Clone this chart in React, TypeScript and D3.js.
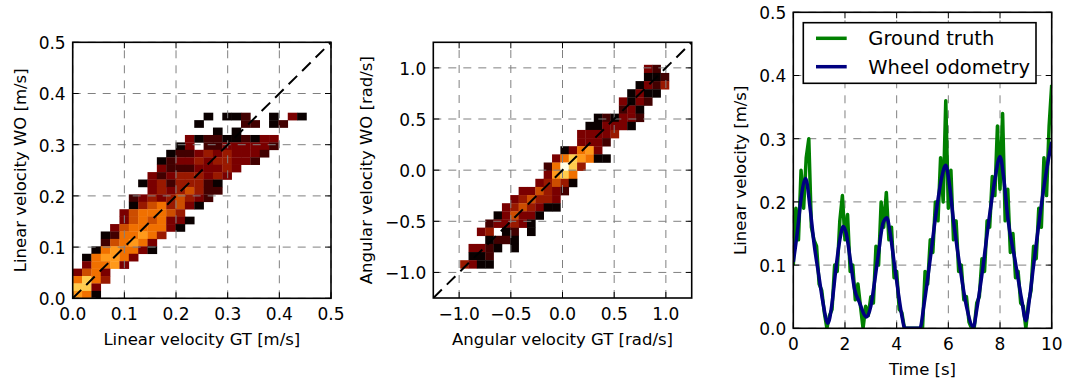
import React from 'react';
import * as d3 from 'd3';

// ---------- DATA ----------
// Panel 1: linear velocity 2D histogram (levels 1..9, '.' = empty). Top row first.
const linearBinStartX = 0;
const linearBinWidthX = 0.0181;
const linearBinStartY = 0;
const linearBinWidthY = 0.0145;
const linearHist = [
  '..............1.112..1.31',
  '.............1....22.12..',
  '...............1.1.......',
  '............3122112133...',
  '...........13.22333332...',
  '..........12234343332....',
  '.........12334344332.....',
  '.........322233343.......',
  '........323444343........',
  '.......134244421.........',
  '........34345422.........',
  '......234345432..........',
  '......14564531...........',
  '.....3566654.............',
  '.....35656331............',
  '....35666631.............',
  '...1266764...............',
  '...256763................',
  '..1676631................',
  '.167763..................',
  '.36673...................',
  '3563.....................',
  '6864.....................',
  '883......................',
  '761......................',
];

// Panel 2: angular velocity 2D histogram. Top row first.
const angularBinStartX = -0.99;
const angularBinWidthX = 0.0808;
const angularBinStartY = -0.96;
const angularBinWidthY = 0.0796;
const angularHist = [
  '......................32.',
  '......................112',
  '.....................1324',
  '....................1311.',
  '...................3132..',
  '...................231...',
  '................121332...',
  '...............113331....',
  '..............33334......',
  '..............3332.......',
  '............13673........',
  '...........3687611.......',
  '..........26984..........',
  '..........3786...........',
  '.........34541...........',
  '.......335432............',
  '......345443.............',
  '.....3454311.............',
  '....135331...............',
  '...233431................',
  '..34.12.1................',
  '...1221..................',
  '.3321.1..................',
  '.112.....................',
  '4311.....................',
];

// colour value (0..1 on afmhot) for each level
const levelValues = [0, 0.02, 0.13, 0.24, 0.3, 0.4, 0.47, 0.55, 0.65, 0.95];

// Panel 3: time series
const odoTime = [0.0, 0.15, 0.3, 0.48, 0.65, 0.8, 1.0, 1.15, 1.34, 1.5, 1.65, 1.8, 1.93, 2.05, 2.2, 2.37, 2.55, 2.83, 3.0, 3.15, 3.3, 3.47, 3.62, 3.75, 3.9, 4.05, 4.2, 4.32, 4.9, 5.05, 5.3, 5.55, 5.75, 5.9, 6.05, 6.2, 6.45, 6.7, 6.97, 7.1, 7.3, 7.6, 7.8, 8.0, 8.15, 8.3, 8.58, 8.84, 9.0, 9.15, 9.3, 9.6, 9.8, 10.0];
const odoValue = [0.105, 0.15, 0.205, 0.237, 0.19, 0.135, 0.08, 0.04, 0.008, 0.04, 0.095, 0.14, 0.161, 0.15, 0.11, 0.062, 0.042, 0.018, 0.035, 0.075, 0.12, 0.166, 0.175, 0.15, 0.105, 0.06, 0.02, 0.0, 0.0, 0.035, 0.11, 0.19, 0.24, 0.258, 0.225, 0.17, 0.097, 0.035, 0.002, 0.03, 0.085, 0.18, 0.235, 0.272, 0.235, 0.175, 0.108, 0.045, 0.012, 0.05, 0.1, 0.195, 0.25, 0.295];

const gtStart = 0;
const gtStep = 0.1;
const gtValue = [
  0.10, 0.19, 0.14, 0.25, 0.19, 0.27, 0.30, 0.16, 0.14, 0.13,
  0.07, 0.06, 0.025, 0.0, 0.02, 0.03, 0.10, 0.09, 0.17, 0.21,
  0.14, 0.18, 0.09, 0.10, 0.045, 0.07, 0.035, 0.0, 0.035, 0.02,
  0.05, 0.04, 0.13, 0.10, 0.20, 0.16, 0.215, 0.14, 0.16, 0.08,
  0.09, 0.03, 0.025, 0.0, 0.0, 0.0, 0.0, 0.0, 0.0, 0.0,
  0.0, 0.09, 0.07, 0.14, 0.12, 0.20, 0.17, 0.27, 0.20, 0.36,
  0.19, 0.25, 0.14, 0.17, 0.09, 0.10, 0.045, 0.05, 0.01, 0.0,
  0.0, 0.04, 0.05, 0.11, 0.09, 0.17, 0.16, 0.24, 0.21, 0.32,
  0.22, 0.34, 0.17, 0.22, 0.12, 0.15, 0.08, 0.09, 0.04, 0.035,
  0.0, 0.04, 0.06, 0.13, 0.11, 0.19, 0.16, 0.27, 0.21, 0.32,
  0.385,
];

const linearTicks = [0, 0.1, 0.2, 0.3, 0.4, 0.5];
const angularTicks = [-1.0, -0.5, 0, 0.5, 1.0];
const timeTicks = [0, 2, 4, 6, 8, 10];
const speedTicks = [0, 0.1, 0.2, 0.3, 0.4, 0.5];

const legendLabels = ['Ground truth', 'Wheel odometry'];

// ---------- STYLE ----------
const FONT = 'DejaVu Sans';
const gridColor = '#808080';
const gtColor = '#008000';
const odoColor = '#000080';
const TICK_FS = 17;
const LABEL_FS = 16.5;
const LEGEND_FS = 19.5;

function afmhot(v: number) {
  const c = (x: number) => Math.max(0, Math.min(1, x));
  return d3.rgb(c(2 * v) * 255, c(2 * v - 0.5) * 255, c(2 * v - 1) * 255).formatHex();
}

type Box = { left: number; top: number; right: number; bottom: number };

function Axes({ box, xs, ys, xTicks, yTicks, xFmt, yFmt, xLabel, yLabel, yLabelX, clipId, children }: any) {
  const b: Box = box;
  const tl = 6;
  return (
    <g>
      <defs>
        <clipPath id={clipId}>
          <rect x={b.left} y={b.top} width={b.right - b.left} height={b.bottom - b.top} />
        </clipPath>
      </defs>
      <g clipPath={`url(#${clipId})`}>{children[0]}</g>
      {/* grid */}
      <g stroke={gridColor} strokeWidth={1} strokeDasharray="8,7" fill="none">
        {xTicks.map((t: number, i: number) => (
          <line key={'gx' + i} x1={xs(t)} x2={xs(t)} y1={b.bottom} y2={b.top} />
        ))}
        {yTicks.map((t: number, i: number) => (
          <line key={'gy' + i} x1={b.left} x2={b.right} y1={ys(t)} y2={ys(t)} />
        ))}
      </g>
      <g clipPath={`url(#${clipId})`}>{children[1]}</g>
      {/* ticks */}
      <g stroke="#000" strokeWidth={1}>
        {xTicks.map((t: number, i: number) => (
          <g key={'tx' + i}>
            <line x1={xs(t)} x2={xs(t)} y1={b.bottom} y2={b.bottom - tl} />
            <line x1={xs(t)} x2={xs(t)} y1={b.top} y2={b.top + tl} />
          </g>
        ))}
        {yTicks.map((t: number, i: number) => (
          <g key={'ty' + i}>
            <line x1={b.left} x2={b.left + tl} y1={ys(t)} y2={ys(t)} />
            <line x1={b.right} x2={b.right - tl} y1={ys(t)} y2={ys(t)} />
          </g>
        ))}
      </g>
      <rect x={b.left} y={b.top} width={b.right - b.left} height={b.bottom - b.top} fill="none" stroke="#000" strokeWidth={1.6} />
      {/* tick labels */}
      <g fontFamily={FONT} fontSize={TICK_FS} fill="#000">
        {xTicks.map((t: number, i: number) => (
          <text key={'lx' + i} x={xs(t)} y={b.bottom + 21.5} textAnchor="middle">{xFmt(t)}</text>
        ))}
        {yTicks.map((t: number, i: number) => (
          <text key={'ly' + i} x={b.left - 7} y={ys(t) + 6.8} textAnchor="end">{yFmt(t)}</text>
        ))}
      </g>
      <g fontFamily={FONT} fontSize={LABEL_FS} fill="#000">
        <text x={(b.left + b.right) / 2} y={b.bottom + 47} textAnchor="middle">{xLabel}</text>
        <text transform={`translate(${yLabelX},${(b.top + b.bottom) / 2}) rotate(-90)`} textAnchor="middle">{yLabel}</text>
      </g>
    </g>
  );
}

function Heat({ rows, x0, bw, y0, bh, xs, ys }: any) {
  const n = rows.length;
  const cells: any[] = [];
  rows.forEach((row: string, k: number) => {
    const j = n - 1 - k;
    for (let i = 0; i < row.length; i++) {
      const ch = row[i];
      if (ch === '.') continue;
      const lv = +ch;
      const xa = xs(x0 + i * bw);
      const xb = xs(x0 + (i + 1) * bw);
      const ya = ys(y0 + (j + 1) * bh);
      const yb = ys(y0 + j * bh);
      cells.push(
        <rect key={k + '_' + i} x={xa} y={ya} width={xb - xa + 0.3} height={yb - ya + 0.3} fill={afmhot(levelValues[lv])} />
      );
    }
  });
  return <g>{cells}</g>;
}

export default function App() {
  const W = 1067, H = 381;
  const b1: Box = { left: 72.7, top: 42.3, right: 331, bottom: 298.3 };
  const b2: Box = { left: 433.3, top: 42.3, right: 691.7, bottom: 298 };
  const b3: Box = { left: 793.3, top: 12.3, right: 1051.7, bottom: 328.3 };

  const xs1 = d3.scaleLinear().domain([0, 0.5]).range([b1.left, b1.right]);
  const ys1 = d3.scaleLinear().domain([0, 0.5]).range([b1.bottom, b1.top]);
  const xs2 = d3.scaleLinear().domain([-1.25, 1.25]).range([b2.left, b2.right]);
  const ys2 = d3.scaleLinear().domain([-1.25, 1.25]).range([b2.bottom, b2.top]);
  const xs3 = d3.scaleLinear().domain([0, 10]).range([b3.left, b3.right]);
  const ys3 = d3.scaleLinear().domain([0, 0.5]).range([b3.bottom, b3.top]);

  const f1 = d3.format('.1f');
  const f0 = d3.format('d');

  const gtPts: [number, number][] = gtValue.map((v, i) => [gtStart + i * gtStep, v]);
  const odoPts: [number, number][] = odoTime.map((t, i) => [t, odoValue[i]]);
  const gtLine = d3.line<[number, number]>().x(d => xs3(d[0])).y(d => ys3(d[1]))(gtPts) || '';
  const odoLine = d3.line<[number, number]>().x(d => xs3(d[0])).y(d => ys3(d[1])).curve(d3.curveMonotoneX)(odoPts) || '';

  const lg = { x: 803.3, y: 22.7, w: 232.7, h: 60.6 };
  const legendRows = [
    { label: legendLabels[0], color: gtColor, y: 38.3 },
    { label: legendLabels[1], color: odoColor, y: 66.7 },
  ];

  return (
    <svg width={W} height={H} style={{ position: 'absolute', left: 0, top: 0, background: '#fff' }}>
      <rect x={0} y={0} width={W} height={H} fill="#fff" />
      <Axes box={b1} xs={xs1} ys={ys1} xTicks={linearTicks} yTicks={linearTicks} xFmt={f1} yFmt={f1}
        xLabel="Linear velocity GT [m/s]" yLabel="Linear velocity WO [m/s]" yLabelX={25.5} clipId="c1">
        <Heat rows={linearHist} x0={linearBinStartX} bw={linearBinWidthX} y0={linearBinStartY} bh={linearBinWidthY} xs={xs1} ys={ys1} />
        <line x1={xs1(0)} y1={ys1(0)} x2={xs1(0.5)} y2={ys1(0.5)} stroke="#000" strokeWidth={2} strokeDasharray="12,7" />
      </Axes>
      <Axes box={b2} xs={xs2} ys={ys2} xTicks={angularTicks} yTicks={angularTicks} xFmt={f1} yFmt={f1}
        xLabel="Angular velocity GT [rad/s]" yLabel="Angular velocity WO [rad/s]" yLabelX={372} clipId="c2">
        <Heat rows={angularHist} x0={angularBinStartX} bw={angularBinWidthX} y0={angularBinStartY} bh={angularBinWidthY} xs={xs2} ys={ys2} />
        <line x1={xs2(-1.25)} y1={ys2(-1.25)} x2={xs2(1.25)} y2={ys2(1.25)} stroke="#000" strokeWidth={2} strokeDasharray="12,7" />
      </Axes>
      <Axes box={b3} xs={xs3} ys={ys3} xTicks={timeTicks} yTicks={speedTicks} xFmt={f0} yFmt={f1}
        xLabel="Time [s]" yLabel="Linear velocity [m/s]" yLabelX={745.5} clipId="c3">
        <g />
        <g fill="none" strokeLinejoin="round">
          <path d={gtLine} stroke={gtColor} strokeWidth={3.5} />
          <path d={odoLine} stroke={odoColor} strokeWidth={3.5} />
        </g>
      </Axes>
      <g>
        <rect x={lg.x} y={lg.y} width={lg.w} height={lg.h} fill="#fff" stroke="#000" strokeWidth={1.6} />
        {legendRows.map((r, i) => (
          <g key={i}>
            <line x1={816} x2={846.7} y1={r.y} y2={r.y} stroke={r.color} strokeWidth={3.5} />
            <text x={868.3} y={r.y + 7} fontFamily={FONT} fontSize={LEGEND_FS} fill="#000">{r.label}</text>
          </g>
        ))}
      </g>
    </svg>
  );
}
